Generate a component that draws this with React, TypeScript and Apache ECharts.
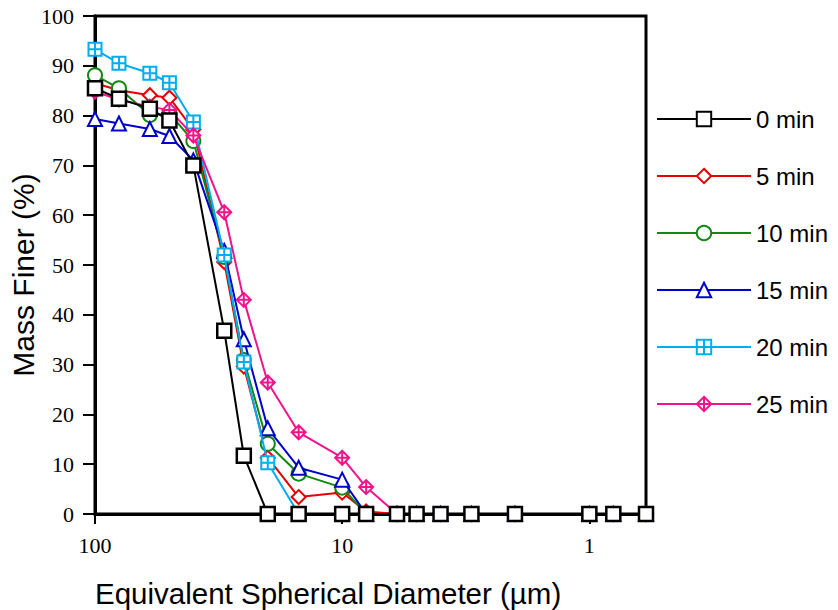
import React, { useEffect, useRef } from "react";
import * as echarts from "echarts";

const diameters = [100, 80, 60, 50, 40, 30, 25, 20, 15, 10, 8, 6, 5, 4, 3, 2, 1, 0.8, 0.59];
const seriesNames = ["0 min", "5 min", "10 min", "15 min", "20 min", "25 min"];
const min0 = [85.5, 83.4, 81.4, 79.0, 70.0, 36.8, 11.7, 0, 0, 0, 0, 0, 0, 0, 0, 0, 0, 0, 0];
const min5 = [86.5, 85.1, 84.1, 83.6, 77.2, 50.6, 29.6, 11.3, 3.4, 4.3, 0.5, 0, 0, 0, 0, 0, 0, 0, 0];
const min10 = [88.1, 85.5, 80.1, 80.4, 74.9, 51.6, 30.9, 14.1, 8.1, 5.3, 0, 0, 0, 0, 0, 0, 0, 0, 0];
const min15 = [79.3, 78.4, 77.3, 75.9, 71.0, 52.8, 35.1, 17.2, 9.3, 6.9, 0, 0, 0, 0, 0, 0, 0, 0, 0];
const min20 = [93.3, 90.5, 88.5, 86.6, 78.7, 52.0, 30.5, 10.3, 0, 0, 0, 0, 0, 0, 0, 0, 0, 0, 0];
const min25 = [84.8, 83.2, 81.8, 81.1, 76.0, 60.6, 43.0, 26.4, 16.4, 11.3, 5.4, 0, 0, 0, 0, 0, 0, 0, 0];
const yTicks = [0, 10, 20, 30, 40, 50, 60, 70, 80, 90, 100];

const allValues = [min0, min5, min10, min15, min20, min25];
const colors = ["#000000", "#e60000", "#118811", "#0000cc", "#00aeef", "#f0148c"];
const symbols = [
  "rect",
  "diamond",
  "circle",
  "triangle",
  "path://M0,0H10V10H0Z M5,0V10 M0,5H10",
  "path://M5,0L10,5L5,10L0,5Z M5,0V10 M0,5H10",
];
const symbolSizes = [14, 14, 14, 14, 13, 14];

const serif = '"Liberation Serif", "Times New Roman", serif';
const sans = '"Liberation Sans", Arial, sans-serif';

export default function App() {
  const ref = useRef<HTMLDivElement>(null);
  useEffect(() => {
    if (!ref.current) return;
    const chart = echarts.init(ref.current, undefined, { renderer: "svg" });
    const series = seriesNames.map((name, i) => ({
      name,
      type: "line",
      data: diameters.map((d, j) => [d, allValues[i][j]]),
      symbol: symbols[i],
      symbolSize: symbolSizes[i],
      showAllSymbol: true,
      z: i === 0 ? 10 : 2 + i * 0.1,
      lineStyle: { color: colors[i], width: 2 },
      itemStyle: { color: "#ffffff", borderColor: colors[i], borderWidth: i === 0 ? 2.5 : 2 },
      emphasis: { disabled: true },
    }));
    chart.setOption({
      animation: false,
      backgroundColor: "#ffffff",
      grid: {
        left: 95,
        top: 16,
        right: 192,
        bottom: 96,
        show: true,
        borderColor: "#000",
        borderWidth: 3,
      },
      xAxis: {
        type: "log",
        logBase: 10,
        min: 0.59,
        max: 100,
        inverse: true,
        axisLine: { show: true, lineStyle: { color: "#000", width: 3 } },
        axisTick: { show: true, length: 10, lineStyle: { color: "#000", width: 2 } },
        axisLabel: {
          showMinLabel: false,
          margin: 20,
          color: "#000",
          fontSize: 22,
          fontFamily: serif,
        },
        splitLine: { show: false },
        minorTick: { show: false },
      },
      yAxis: {
        type: "value",
        min: 0,
        max: 100,
        interval: 10,
        axisLine: { show: true, lineStyle: { color: "#000", width: 3 } },
        axisTick: { show: true, length: 12, lineStyle: { color: "#000", width: 2 } },
        axisLabel: {
          margin: 21,
          color: "#000",
          fontSize: 22,
          fontFamily: serif,
          formatter: (v: number) => (yTicks.includes(v) ? String(v) : ""),
        },
        splitLine: { show: false },
      },
      legend: {
        orient: "vertical",
        left: 656,
        top: 107,
        padding: 0,
        itemWidth: 94,
        itemHeight: 18,
        itemGap: 33,
        data: seriesNames,
        selectedMode: false,
        itemStyle: { borderWidth: 2 },
        textStyle: { color: "#000", fontSize: 24, fontFamily: sans },
      },
      graphic: [
        {
          type: "text",
          x: 95,
          y: 593,
          style: {
            text: "Equivalent Spherical Diameter (µm)",
            fill: "#000",
            fontSize: 29.5,
            fontFamily: sans,
            align: "left",
            verticalAlign: "middle",
          },
        },
        {
          type: "text",
          x: 23,
          y: 275,
          rotation: Math.PI / 2,
          style: {
            text: "Mass Finer (%)",
            fill: "#000",
            fontSize: 30,
            fontFamily: sans,
            align: "center",
            verticalAlign: "middle",
          },
        },
      ],
      series,
    });
    return () => chart.dispose();
  }, []);
  return (
    <div
      ref={ref}
      style={{ position: "absolute", left: 0, top: 0, width: 838, height: 610 }}
    />
  );
}
